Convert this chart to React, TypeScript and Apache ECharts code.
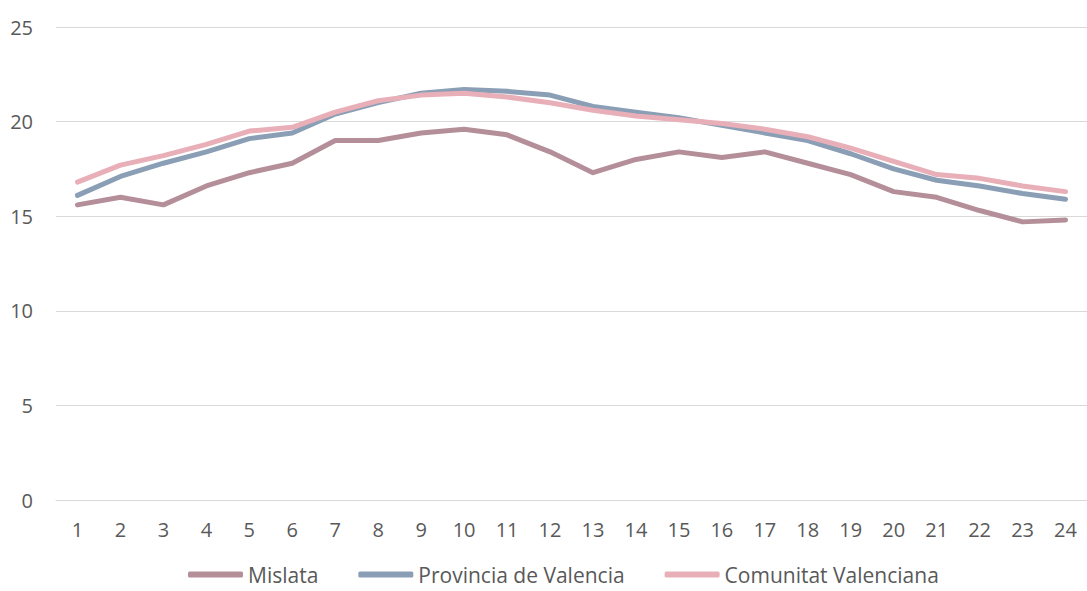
import React, { useEffect, useRef } from "react";
import * as echarts from "echarts";

const categories = ["1","2","3","4","5","6","7","8","9","10","11","12","13","14","15","16","17","18","19","20","21","22","23","24"];
const mislata = [15.6, 16.0, 15.6, 16.6, 17.3, 17.8, 19.0, 19.0, 19.4, 19.6, 19.3, 18.4, 17.3, 18.0, 18.4, 18.1, 18.4, 17.8, 17.2, 16.3, 16.0, 15.3, 14.7, 14.8];
const provincia = [16.1, 17.1, 17.8, 18.4, 19.1, 19.4, 20.4, 21.0, 21.5, 21.7, 21.6, 21.4, 20.8, 20.5, 20.2, 19.8, 19.4, 19.0, 18.3, 17.5, 16.9, 16.6, 16.2, 15.9];
const comunitat = [16.8, 17.7, 18.2, 18.8, 19.5, 19.7, 20.5, 21.1, 21.4, 21.5, 21.3, 21.0, 20.6, 20.3, 20.1, 19.9, 19.6, 19.2, 18.6, 17.9, 17.2, 17.0, 16.6, 16.3];
const seriesNames = ["Mislata", "Provincia de Valencia", "Comunitat Valenciana"];
const colors = ["#B48F9A", "#8A9FB5", "#E8AFB8"];

export default function App() {
  const ref = useRef<HTMLDivElement>(null);
  useEffect(() => {
    const chart = echarts.init(ref.current!, null, { renderer: "svg" });
    const font = "'Open Sans', 'Noto Sans', sans-serif";
    const data = [mislata, provincia, comunitat];
    chart.setOption({
      animation: false,
      textStyle: { fontFamily: font },
      grid: { left: 56, top: 27, width: 1040, height: 473, containLabel: false },
      legend: {
        top: 564,
        left: 188,
        padding: 0,
        icon: "roundRect",
        itemWidth: 55,
        itemHeight: 6,
        itemGap: 40,
        textStyle: { fontSize: 21, color: "#595959", fontFamily: font },
        data: seriesNames,
      },
      xAxis: {
        type: "category",
        data: categories,
        boundaryGap: true,
        axisLine: { show: true, lineStyle: { color: "#d9d9d9", width: 1 } },
        axisTick: { show: false },
        axisLabel: { color: "#595959", fontSize: 20, margin: 19, fontFamily: font },
      },
      yAxis: {
        type: "value",
        min: 0,
        max: 25,
        interval: 5,
        axisLine: { show: false },
        axisTick: { show: false },
        splitLine: { lineStyle: { color: "#d9d9d9", width: 1 } },
        axisLabel: { color: "#595959", fontSize: 20, margin: 23, fontFamily: font },
      },
      series: seriesNames.map((name, i) => ({
        name,
        type: "line",
        data: data[i],
        symbol: "none",
        smooth: false,
        lineStyle: { width: 5, color: colors[i], cap: "round", join: "round" },
        itemStyle: { color: colors[i] },
      })),
    });
    return () => chart.dispose();
  }, []);
  return <div ref={ref} style={{ width: 1087, height: 591, position: "absolute", left: 0, top: 0 }} />;
}
